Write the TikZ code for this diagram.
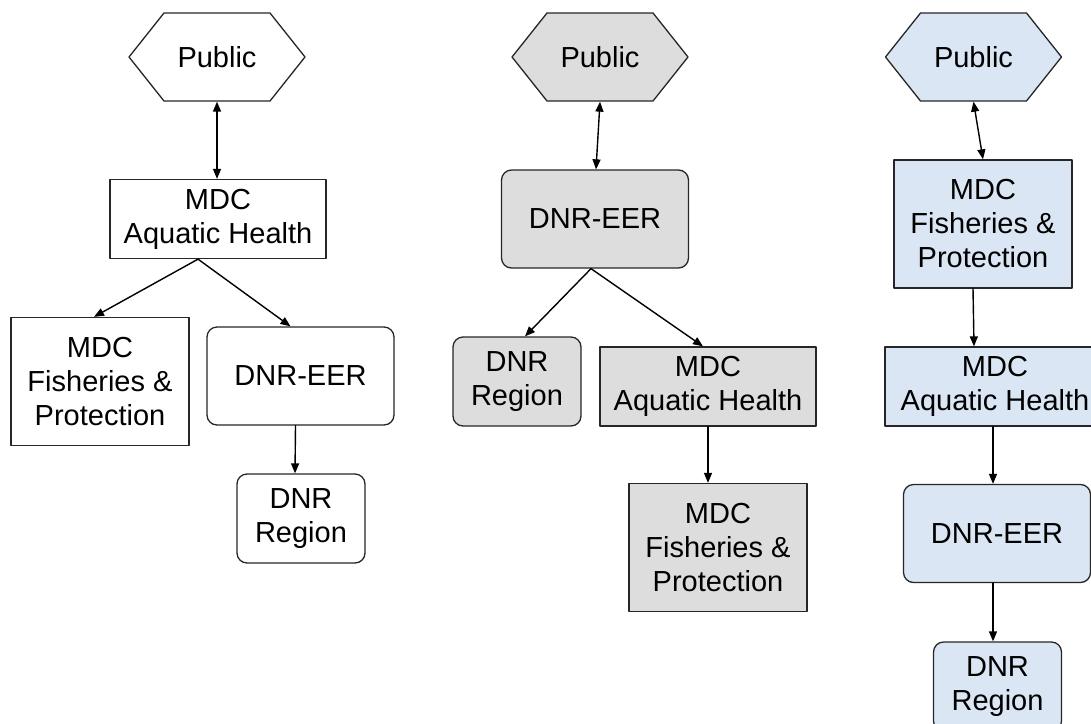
\documentclass[tikz,border=0pt]{standalone}
\usepackage{fontspec}
\setmainfont{Liberation Sans}
\usetikzlibrary{arrows.meta, calc, shapes.symbols}
\definecolor{boxgray}{HTML}{DDDDDD}
\definecolor{boxblue}{HTML}{DAE6F4}
\definecolor{boxline}{HTML}{262626}
\tikzset{
  >={Triangle[length=10pt, width=8pt]},
  every picture/.style={line cap=round, line join=round},
  unit/.style={draw=boxline, line width=1.3pt, align=center, inner sep=0pt,
    font=\fontsize{29}{34}\selectfont},
  % the "Public" hexagon
  hexnode/.style={unit, shape=signal, signal to=west and east,
    signal pointer angle=103, minimum width=176pt, minimum height=88pt},
  sqbox/.style={unit, rectangle},
  rndbox/.style={unit, rectangle, rounded corners=10pt},
  fisheries/.style={sqbox, minimum width=178pt, minimum height=128pt},
  aquatic/.style={sqbox, minimum width=216pt, minimum height=79pt},
  eer/.style={rndbox, minimum width=187pt, minimum height=98pt},
  region/.style={rndbox, minimum width=128pt, minimum height=89pt},
  link/.style={->, line width=1.4pt},
  duplex/.style={<->, line width=1.4pt},
}

\begin{document}
\begin{tikzpicture}[x=1pt, y=-1pt]
  \useasboundingbox (0,0) rectangle (1091,723);
  % left: white
  \node[hexnode, fill=white] (pubA) at (217,57) {Public};
  \node[aquatic, fill=white] (aqA) at (218,219) {MDC\\Aquatic Health};
  \node[fisheries, fill=white] (fiA) at (100,381.5) {MDC\\Fisheries \&\\Protection};
  \node[eer, fill=white] (eerA) at (300.5,376) {DNR-EER};
  \node[region, fill=white] (regA) at (301,518.5) {DNR\\Region};
  \draw[duplex] (pubA.south) -- (pubA.south |- aqA.north);
  \draw[link] ([xshift=-20pt]aqA.south) -- ([xshift=-6pt]fiA.north);
  \draw[link] ([xshift=-20pt]aqA.south) -- ([xshift=-10pt]eerA.north);
  \draw[link] ([xshift=-5pt]eerA.south) -- ([xshift=-6pt]regA.north);

  % middle: gray
  \node[hexnode, fill=boxgray] (pubB) at (600,57) {Public};
  \node[eer, fill=boxgray] (eerB) at (595,219) {DNR-EER};
  \node[region, fill=boxgray] (regB) at (517,381.5) {DNR\\Region};
  \node[aquatic, fill=boxgray] (aqB) at (708,386.5) {MDC\\Aquatic Health};
  \node[fisheries, fill=boxgray] (fiB) at (718,547.5) {MDC\\Fisheries \&\\Protection};
  \draw[duplex] (pubB.south) -- ([xshift=1pt]eerB.north);
  \draw[link] ([xshift=-4pt]eerB.south) -- ([xshift=8pt]regB.north);
  \draw[link] ([xshift=-4pt]eerB.south) -- ([xshift=-5pt]aqB.north);
  \draw[link] (aqB.south) -- ([xshift=-10pt]fiB.north);

  % right: blue
  \node[hexnode, fill=boxblue] (pubC) at (973.5,57) {Public};
  \node[fisheries, fill=boxblue] (fiC) at (983,224) {MDC\\Fisheries \&\\Protection};
  \node[aquatic, fill=boxblue, minimum width=220pt] (aqC) at (995,386.5) {MDC\\Aquatic Health};
  \node[eer, fill=boxblue] (eerC) at (997,533.5) {DNR-EER};
  \node[region, fill=boxblue] (regC) at (997.5,686.5) {DNR\\Region};
  \draw[duplex] (pubC.south) -- (fiC.north);
  \draw[link] ([xshift=-10pt]fiC.south) -- ([xshift=-21pt]aqC.north);
  \draw[link] ([xshift=-2pt]aqC.south) -- ([xshift=-4pt]eerC.north);
  \draw[link] ([xshift=-4pt]eerC.south) -- ([xshift=-4.5pt]regC.north);
\end{tikzpicture}
\end{document}
